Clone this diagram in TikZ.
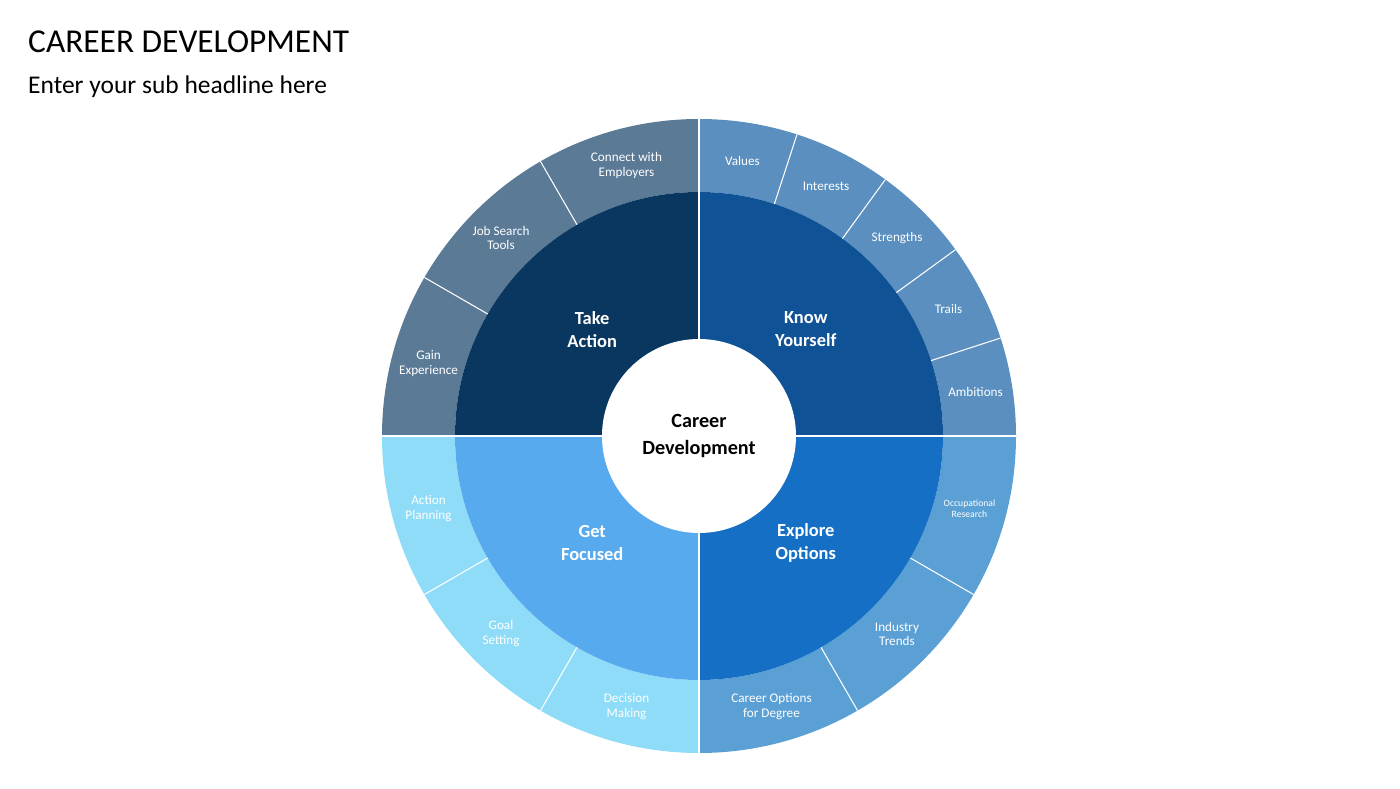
\documentclass[tikz,border=0pt]{standalone}
\usepackage{fontspec}
\setmainfont{Carlito}
\usetikzlibrary{positioning}
\definecolor{ActDark}{HTML}{0A375F}
\definecolor{KnowDark}{HTML}{0F5296}
\definecolor{ExploreDark}{HTML}{1570C5}
\definecolor{FocusDark}{HTML}{58AAEE}
\definecolor{ActLight}{HTML}{5B7A96}
\definecolor{KnowLight}{HTML}{5A8FBF}
\definecolor{ExploreLight}{HTML}{5BA0D5}
\definecolor{FocusLight}{HTML}{8FDCF8}
\tikzset{
  outerlabel/.style={text=white,font=\fontsize{7.5}{8.5}\selectfont,align=center},
  innerlabel/.style={text=white,font=\fontsize{10.5}{13}\selectfont\bfseries,align=center},
  divider/.style={white,line width=0.6pt}
}
\begin{document}
\begin{tikzpicture}[x=0.02cm,y=0.02cm]
    \useasboundingbox (0,0) rectangle (1400,788);
    % Title
    \node[anchor=west,font=\fontsize{19}{22}\selectfont] (title) at (22,746) {CAREER DEVELOPMENT};
    \node[anchor=west,font=\fontsize{14.5}{17}\selectfont] (sub) at (22,701) {Enter your sub headline here};

    \begin{scope}[shift={(699,352)}]
    % Quadrants: outer and inner rings
    \foreach \a/\inner/\outer in {90/ActDark/ActLight,0/KnowDark/KnowLight,
                                  270/ExploreDark/ExploreLight,180/FocusDark/FocusLight}{
        \fill[\outer] (\a:317) arc[start angle=\a,end angle=\a+90,radius=317]
            -- (\a+90:244) arc[start angle=\a+90,end angle=\a,radius=244] -- cycle;
        \fill[\inner] (0,0) -- (\a:244) arc[start angle=\a,end angle=\a+90,radius=244] -- cycle;
    }
    % Dividers
    \foreach \a in {18,36,54,72,120,150,210,240,300,330}
        \draw[divider] (\a:244) -- (\a:317);
    \draw[white,line width=1pt] (-317,0) -- (317,0);
    \draw[white,line width=1pt] (0,-317) -- (0,317);
    \fill[white] (0,0) circle (97);
    \node[font=\fontsize{11.5}{15}\selectfont\bfseries,align=center] (center) at (0,0) {Career\\Development};

    % Inner labels
    \node[innerlabel] (act) at (135:151) {Take\\Action};
    \node[innerlabel] (know) at (45:151) {Know\\Yourself};
    \node[innerlabel] (explore) at (-45:151) {Explore\\Options};
    \node[innerlabel] (focus) at (225:151) {Get\\Focused};

    % Outer labels
    \node[outerlabel] (values) at (81:278) {Values};
    \node[outerlabel] (interests) at (63:280) {Interests};
    \node[outerlabel] (strengths) at (45:280) {Strengths};
    \node[outerlabel] (trails) at (27:280) {Trails};
    \node[outerlabel] (ambitions) at (9:280) {Ambitions};
    \node[outerlabel] (employers) at (105:280) {Connect with\\Employers};
    \node[outerlabel] (jobsearch) at (135:280) {Job Search\\Tools};
    \node[outerlabel] (experience) at (165:280) {Gain\\Experience};
    \node[outerlabel,font=\fontsize{5.5}{6.5}\selectfont] (research) at (-15:280) {Occupational\\Research};
    \node[outerlabel] (trends) at (-45:280) {Industry\\Trends};
    \node[outerlabel] (degree) at (-75:280) {Career Options\\for Degree};
    \node[outerlabel] (planning) at (195:280) {Action\\Planning};
    \node[outerlabel] (goal) at (225:280) {Goal\\Setting};
    \node[outerlabel] (decision) at (255:280) {Decision\\Making};
    \end{scope}
\end{tikzpicture}
\end{document}
